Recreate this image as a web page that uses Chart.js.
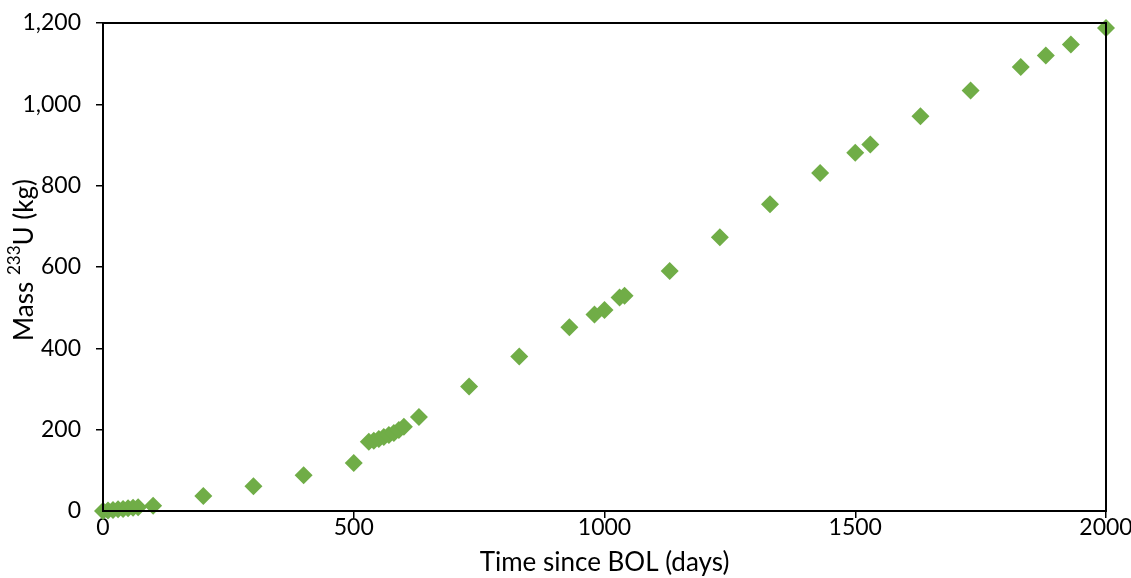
<!DOCTYPE html>
<html>
<head>
<meta charset="utf-8">
<script src="https://cdn.jsdelivr.net/npm/chart.js@4/dist/chart.umd.min.js"></script>
<style>
  html, body { margin: 0; padding: 0; background: #fff; }
  #wrap { width: 1131px; height: 578px; }
</style>
</head>
<body>
<div id="wrap"><canvas id="massChart" width="1131" height="578"></canvas></div>
<script>
// time since BOL (days) and 233U mass (kg)
const days = [0, 10, 20, 30, 40, 50, 60, 70, 100, 200, 300, 400, 500,
    530, 540, 550, 560, 570, 580, 590, 600, 630, 730, 830, 930,
    980, 1000, 1030, 1040, 1130, 1230, 1330, 1430, 1500, 1530,
    1630, 1730, 1830, 1880, 1930, 2000];
const massU233 = [0, 1, 2.5, 4, 5, 6.5, 8, 9, 13, 37, 61, 88, 118,
    170, 173, 177, 182, 187, 192, 199, 207, 231, 306, 380, 452,
    483, 494, 525, 529, 590, 673, 754, 831, 881, 901,
    971, 1034, 1092, 1120, 1147, 1188];
const xTicks = [0, 500, 1000, 1500, 2000];
const yTicks = [0, 200, 400, 600, 800, 1000, 1200];

const FONT = 'Lato, "Open Sans", sans-serif';

const points = days.map((d, i) => ({ x: d, y: massU233[i] }));

// box round the plot area + the y title with a real superscript
const frameBox = {
    id: 'frameBox',
    afterDraw(chart) {
        const a = chart.chartArea;
        const ctx = chart.ctx;
        ctx.save();
        ctx.strokeStyle = '#000';
        ctx.lineWidth = 2;
        ctx.strokeRect(a.left, a.top, a.right - a.left, a.bottom - a.top);

        const big = '26px ' + FONT;
        const small = '17px ' + FONT;
        const parts = [['Mass ', big, 0], ['233', small, -10], ['U (kg)', big, 0]];
        let total = 0;
        parts.forEach(p => { ctx.font = p[1]; total += ctx.measureText(p[0]).width; });
        ctx.translate(25, (a.top + a.bottom) / 2 - 7);
        ctx.rotate(-Math.PI / 2);
        ctx.fillStyle = '#000';
        ctx.textBaseline = 'middle';
        let x = -total / 2;
        parts.forEach(p => {
            ctx.font = p[1];
            ctx.fillText(p[0], x, p[2]);
            x += ctx.measureText(p[0]).width;
        });
        ctx.restore();
    }
};

const ctx = document.getElementById('massChart').getContext('2d');
new Chart(ctx, {
    type: 'scatter',
    data: {
        datasets: [{
            label: 'Mass 233U',
            data: points,
            pointStyle: 'rectRot',
            pointRadius: 9,
            pointHoverRadius: 9,
            backgroundColor: '#70AD47',
            borderColor: '#70AD47',
            borderWidth: 0,
            clip: false
        }]
    },
    options: {
        responsive: false,
        animation: false,
        layout: { padding: { top: 23, right: 25, left: 0, bottom: 0 } },
        plugins: {
            legend: { display: false },
            tooltip: { enabled: false }
        },
        scales: {
            x: {
                type: 'linear',
                min: 0,
                max: 2000,
                afterBuildTicks: axis => { axis.ticks = xTicks.map(v => ({ value: v })); },
                afterFit: axis => {
                    axis.height = 67;
                    axis.paddingLeft = 0;
                    axis.paddingRight = 0;
                },
                grid: { drawOnChartArea: false, tickLength: 7, color: '#000', lineWidth: 1.5 },
                border: { color: '#000', width: 2 },
                ticks: {
                    color: '#000',
                    font: { family: FONT, size: 23 },
                    padding: -4,
                    maxRotation: 0,
                    callback: v => String(v)
                },
                title: {
                    display: true,
                    text: 'Time since BOL (days)',
                    color: '#000',
                    font: { family: FONT, size: 26 },
                    padding: { top: 0, bottom: 0 }
                }
            },
            y: {
                min: 0,
                max: 1200,
                afterBuildTicks: axis => { axis.ticks = yTicks.map(v => ({ value: v })); },
                afterFit: axis => {
                    axis.width = 103;
                    axis.paddingTop = 0;
                    axis.paddingBottom = 0;
                },
                grid: { drawOnChartArea: false, tickLength: 7, color: '#000', lineWidth: 1.5 },
                border: { color: '#000', width: 2 },
                ticks: {
                    color: '#000',
                    font: { family: FONT, size: 23 },
                    padding: 15,
                    callback: v => v.toLocaleString('en-US')
                },
                title: { display: false }
            }
        }
    },
    plugins: [frameBox]
});
</script>
</body>
</html>
